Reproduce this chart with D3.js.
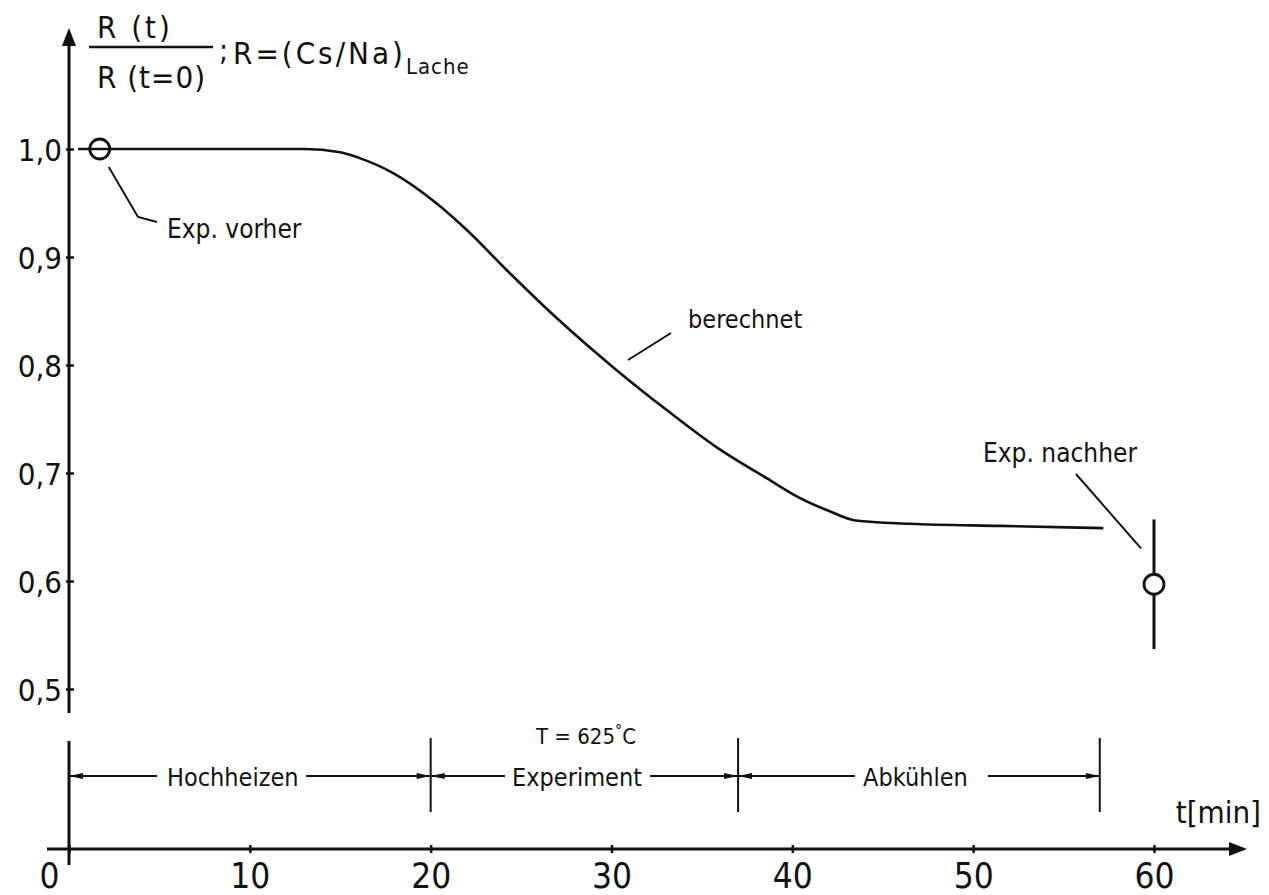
<!DOCTYPE html>
<html>
<head>
<meta charset="utf-8">
<script src="https://cdn.jsdelivr.net/npm/d3@7"></script>
<style>
  body { margin: 0; background: #fff; }
  svg { display: block; }
  text { font-family: "Liberation Sans Narrow", "DejaVu Sans Condensed", "Roboto", sans-serif; fill: #111; }
</style>
</head>
<body>
<svg width="1269" height="895"></svg>
<script>
// computed curve R(t)/R(t=0)
const curveTime  = [0.5, 13, 15, 16, 18, 20.3, 22, 24.2, 27, 30.3, 33, 35.8, 38.6, 40.4, 42, 43.5, 46.5, 51.5, 57.2];
const curveRatio = [1.0, 1.0, 0.997, 0.992, 0.977, 0.95, 0.925, 0.888, 0.843, 0.795, 0.759, 0.724, 0.695, 0.677, 0.665, 0.656, 0.653, 0.651, 0.649];

// experimental points
const expTime  = [1.7, 60];
const expRatio = [1.0, 0.597];
const expErr   = [0, 0.06];
const expNames = ["Exp. vorher", "Exp. nachher"];

const xTicks = [0, 10, 20, 30, 40, 50, 60];
const yTicks = [0.5, 0.6, 0.7, 0.8, 0.9, 1.0];

// phases of the run
const phaseNames  = ["Hochheizen", "Experiment", "Abkühlen"];
const phaseBounds = [0, 20, 37, 57];

const svg = d3.select("svg");
const ink = "#111";

const xScale = d3.scaleLinear().domain([0, 60]).range([69, 1154]);
const yScale = d3.scaleLinear().domain([0.5, 1.0]).range([689, 149]);

const axisY0 = 849; // y of time axis

// ---- y axis
svg.append("line")
  .attr("x1", xScale(0)).attr("x2", xScale(0))
  .attr("y1", 42).attr("y2", 713)
  .attr("stroke", ink).attr("stroke-width", 3);
svg.append("path")
  .attr("d", `M${xScale(0)},28 L${xScale(0) - 7},46 L${xScale(0) + 7},46 Z`)
  .attr("fill", ink);
// lower piece of the y axis (phase band)
svg.append("line")
  .attr("x1", xScale(0)).attr("x2", xScale(0))
  .attr("y1", 741).attr("y2", 865)
  .attr("stroke", ink).attr("stroke-width", 3);

const yAxis = d3.axisLeft(yScale)
  .tickValues(yTicks)
  .tickFormat(d => d3.format(".1f")(d).replace(".", ","))
  .tickSize(0)
  .tickPadding(7);

const gy = svg.append("g")
  .attr("transform", `translate(${xScale(0)},0)`)
  .call(yAxis);
gy.select(".domain").remove();
gy.attr("font-family", null).attr("font-size", null);
gy.selectAll(".tick line")
  .attr("x1", -3).attr("x2", 5)
  .attr("stroke", ink).attr("stroke-width", 2.5);
gy.selectAll(".tick text")
  .attr("font-size", 31)
  .attr("dy", "0.36em")
  .attr("fill", ink);

// ---- x axis
svg.append("line")
  .attr("x1", 47).attr("x2", 1232)
  .attr("y1", axisY0).attr("y2", axisY0)
  .attr("stroke", ink).attr("stroke-width", 3);
svg.append("path")
  .attr("d", `M1247,${axisY0} L1229,${axisY0 - 7} L1229,${axisY0 + 7} Z`)
  .attr("fill", ink);

const xAxis = d3.axisBottom(xScale)
  .tickValues(xTicks)
  .tickFormat(d3.format("d"))
  .tickSize(0);

const gx = svg.append("g")
  .attr("transform", `translate(0,${axisY0})`)
  .call(xAxis);
gx.select(".domain").remove();
gx.attr("font-family", null).attr("font-size", null);
gx.selectAll(".tick line")
  .attr("y1", -4).attr("y2", 4)
  .attr("stroke", ink).attr("stroke-width", 2.5);
gx.selectAll(".tick text")
  .attr("font-size", 35)
  .attr("y", 39)
  .attr("dy", 0)
  .attr("fill", ink)
  .attr("dx", d => d === 0 ? -20 : 0);

svg.append("text")
  .attr("x", 1261).attr("y", 823)
  .attr("text-anchor", "end")
  .attr("font-size", 31)
  .text("t[min]");

// ---- y title
const title = svg.append("g");
title.append("text").attr("x", 97).attr("y", 38).attr("font-size", 31)
  .attr("letter-spacing", 3).text("R (t)");
title.append("line")
  .attr("x1", 89).attr("x2", 213).attr("y1", 47).attr("y2", 47)
  .attr("stroke", ink).attr("stroke-width", 2.5);
title.append("text").attr("x", 97).attr("y", 88).attr("font-size", 31)
  .attr("letter-spacing", 1).text("R (t=0)");
title.append("text").attr("x", 219).attr("y", 60).attr("font-size", 30).text(";");
const t2 = title.append("text").attr("x", 233).attr("y", 64).attr("font-size", 31)
  .attr("letter-spacing", 3);
t2.append("tspan").text("R=(Cs/Na)");
t2.append("tspan").attr("font-size", 22).attr("letter-spacing", 1).attr("dy", 10).text("Lache");

// ---- computed curve
const curveData = curveTime.map((t, i) => ({ t, r: curveRatio[i] }));
const line = d3.line()
  .x(d => xScale(d.t))
  .y(d => yScale(d.r))
  .curve(d3.curveMonotoneX);

svg.append("path")
  .attr("d", line(curveData))
  .attr("fill", "none")
  .attr("stroke", ink)
  .attr("stroke-width", 2.6);

// ---- experimental points
const expData = expTime.map((t, i) => ({ t, r: expRatio[i], e: expErr[i], name: expNames[i] }));
const pts = svg.append("g");
pts.selectAll("line.err")
  .data(expData.filter(d => d.e > 0))
  .join("line")
  .attr("class", "err")
  .attr("x1", d => xScale(d.t)).attr("x2", d => xScale(d.t))
  .attr("y1", d => yScale(d.r + d.e)).attr("y2", d => yScale(d.r - d.e))
  .attr("stroke", ink).attr("stroke-width", 3);
pts.selectAll("circle")
  .data(expData)
  .join("circle")
  .attr("cx", d => xScale(d.t)).attr("cy", d => yScale(d.r))
  .attr("r", 10)
  .attr("fill", d => d.e > 0 ? "#fff" : "none")  // the curve runs through the first circle
  .attr("stroke", ink).attr("stroke-width", 2.8);

// annotations with leader lines
function leader(points) {
  svg.append("path")
    .attr("d", d3.line()(points))
    .attr("fill", "none").attr("stroke", ink).attr("stroke-width", 2);
}
const pBefore = expData[0], pAfter = expData[1];
leader([[xScale(pBefore.t) + 9, yScale(pBefore.r) + 18], [138, 217], [157, 222]]);
svg.append("text").attr("x", 167).attr("y", 238).attr("font-size", 26).text(pBefore.name);

leader([[628, 360], [671, 333]]);
svg.append("text").attr("x", 688).attr("y", 328).attr("font-size", 25).text("berechnet");

leader([[1076, 474], [xScale(pAfter.t) - 13, yScale(pAfter.r + pAfter.e) + 29]]);
svg.append("text").attr("x", 983).attr("y", 462).attr("font-size", 26).text(pAfter.name);

// ---- phase band
const bandY = 776;
const band = svg.append("g");
band.selectAll("line.div")
  .data(phaseBounds.slice(1))
  .join("line")
  .attr("class", "div")
  .attr("x1", d => xScale(d)).attr("x2", d => xScale(d))
  .attr("y1", 738).attr("y2", 812)
  .attr("stroke", ink).attr("stroke-width", 2);

const labelSpans = [[157, 306], [505, 650], [855, 988]]; // gaps in the band line around each label
const labelX = [167, 512, 863];
phaseNames.forEach((name, i) => {
  const x0 = xScale(phaseBounds[i]), x1 = xScale(phaseBounds[i + 1]);
  band.append("line").attr("x1", x0).attr("x2", labelSpans[i][0])
    .attr("y1", bandY).attr("y2", bandY).attr("stroke", ink).attr("stroke-width", 2);
  band.append("line").attr("x1", labelSpans[i][1]).attr("x2", x1)
    .attr("y1", bandY).attr("y2", bandY).attr("stroke", ink).attr("stroke-width", 2);
  band.append("path")
    .attr("d", `M${x0},${bandY} L${x0 + 14},${bandY - 3} L${x0 + 14},${bandY + 3} Z`)
    .attr("fill", ink);
  band.append("path")
    .attr("d", `M${x1},${bandY} L${x1 - 14},${bandY - 3} L${x1 - 14},${bandY + 3} Z`)
    .attr("fill", ink);
  band.append("text").attr("x", labelX[i]).attr("y", bandY + 10)
    .attr("font-size", 25).text(name);
});

const tLabel = svg.append("text").attr("x", 536).attr("y", 744).attr("font-size", 22);
tLabel.append("tspan").text("T = 625");
tLabel.append("tspan").attr("dy", -8).attr("font-size", 16).text("°");
tLabel.append("tspan").attr("dy", 8).text("C");
</script>
</body>
</html>
